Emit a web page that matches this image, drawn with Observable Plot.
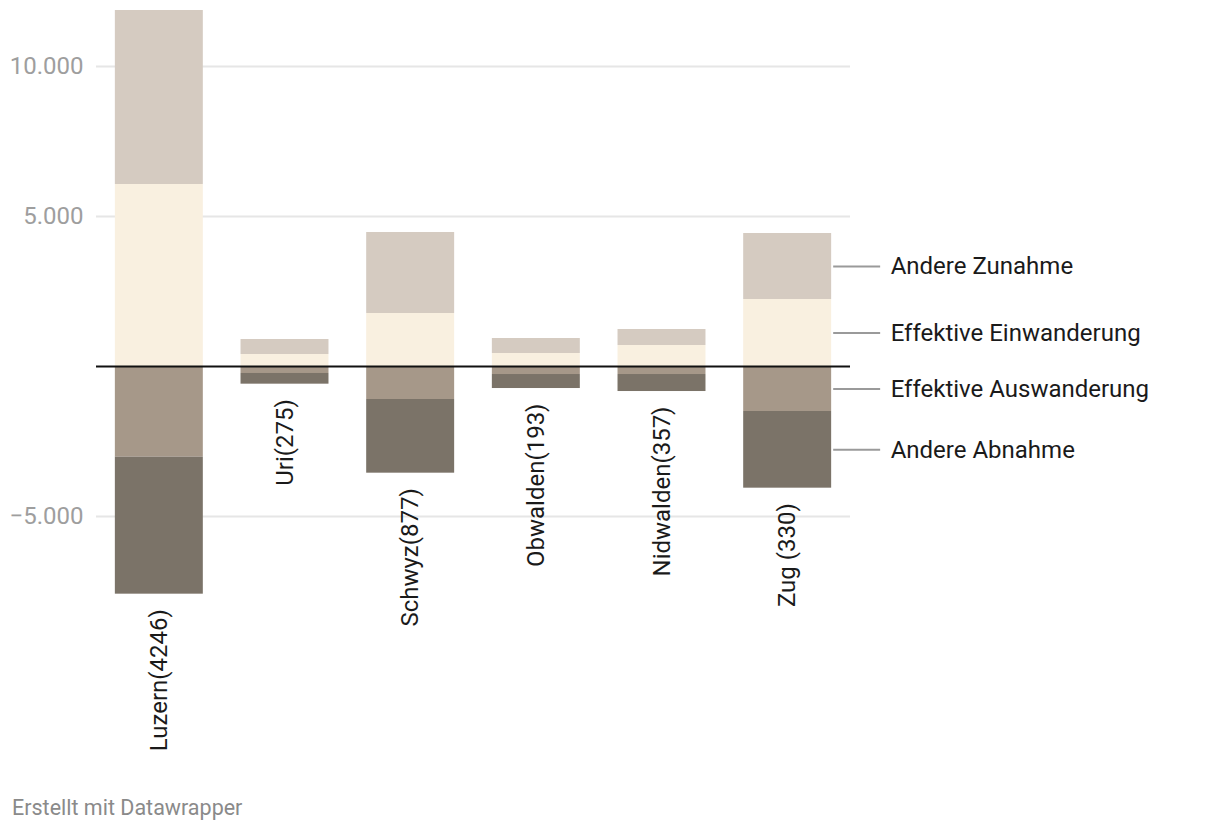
<!DOCTYPE html>
<html>
<head>
<meta charset="utf-8">
<script src="https://cdn.jsdelivr.net/npm/d3@7"></script>
<script src="https://cdn.jsdelivr.net/npm/@observablehq/plot@0.6"></script>
<style>
  html, body { margin: 0; padding: 0; background: #fff; }
  body { width: 1220px; font-family: Roboto, sans-serif; }
  #footer { font-family: Roboto, sans-serif; font-size: 21.5px; line-height: 24px; color: #8a8a8a; margin: 16px 0 0 12px; }
</style>
</head>
<body>
<div id="chart"></div>
<div id="footer">Erstellt mit Datawrapper</div>
<script>
const cantons = ["Luzern(4246)", "Uri(275)", "Schwyz(877)", "Obwalden(193)", "Nidwalden(357)", "Zug (330)"];
const einwanderung = [6067, 400, 1767, 433, 700, 2233];
const andereZunahme = [5800, 500, 2700, 500, 533, 2200];
const auswanderung = [-3022, -233, -1100, -267, -267, -1500];
const andereAbnahme = [-4567, -356, -2456, -467, -567, -2556];
const types = ["Effektive Einwanderung", "Andere Zunahme", "Effektive Auswanderung", "Andere Abnahme"];
const colors = ["#f9f0e0", "#d5cbc1", "#a69889", "#7b7368"];
const yTicks = [-5000, 5000, 10000];

const series = [einwanderung, andereZunahme, auswanderung, andereAbnahme];
const rows = [];
cantons.forEach((c, i) => {
  types.forEach((t, j) => rows.push({canton: c, type: t, value: series[j][i]}));
});

const bottoms = cantons.map((c, i) => ({canton: c, y: auswanderung[i] + andereAbnahme[i]}));

// direct labels at the last bar's segment midpoints
const li = cantons.length - 1;
const legendRows = [
  {label: "Andere Zunahme", y: einwanderung[li] + andereZunahme[li] / 2},
  {label: "Effektive Einwanderung", y: einwanderung[li] / 2},
  {label: "Effektive Auswanderung", y: auswanderung[li] / 2},
  {label: "Andere Abnahme", y: auswanderung[li] + andereAbnahme[li] / 2}
];
const lastCanton = cantons[li];

const fmt = v => (v < 0 ? "\u2212" : "") + d3.format(",")(Math.abs(v)).replace(/,/g, ".");

const chart = Plot.plot({
  width: 1220,
  height: 780,
  marginLeft: 96,
  marginRight: 370,
  marginTop: 6,
  marginBottom: 54,
  style: {fontFamily: "Roboto, sans-serif", fontSize: "24px", background: "#fff"},
  x: {domain: cantons, paddingInner: 0.3, paddingOuter: 0.15, round: false, axis: null},
  y: {domain: [-12000, 12000], axis: null},
  color: {domain: types, range: colors},
  marks: [
    Plot.ruleY(yTicks, {stroke: "#e6e6e6", strokeWidth: 2}),
    Plot.text(yTicks, {y: d => d, text: fmt, frameAnchor: "left", textAnchor: "end", dx: -13, fill: "#9e9e9e", fontSize: 24}),
    Plot.barY(rows, {x: "canton", y: "value", fill: "type"}),
    Plot.ruleY([0], {stroke: "#111", strokeWidth: 2}),
    Plot.text(bottoms, {x: "canton", y: "y", text: "canton", rotate: -90, textAnchor: "end", dy: 15, fill: "#1a1a1a", fontSize: 24}),
    Plot.tickY(legendRows, {x: () => lastCanton, y: "y", stroke: "#9a9a9a", strokeWidth: 2, dx: 90, insetRight: 41}),
    Plot.text(legendRows, {x: () => lastCanton, y: "y", text: "label", textAnchor: "start", dx: 103, fill: "#1a1a1a", fontSize: 24})
  ]
});
document.getElementById("chart").appendChild(chart);
</script>
</body>
</html>
